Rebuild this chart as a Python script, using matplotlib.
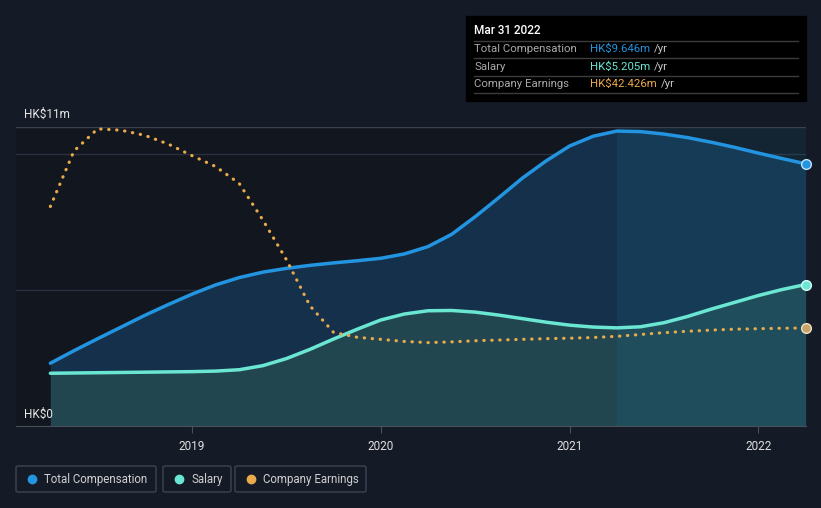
import numpy as np
import matplotlib.pyplot as plt
from matplotlib.patches import Rectangle, FancyBboxPatch
from matplotlib.lines import Line2D

plt.rcParams['font.family'] = ['Roboto', 'DejaVu Sans']

# ---- data (HK$ m), eighth-year steps from Mar 2018 to Mar 2022 ----
years = [2018.25, 2018.375, 2018.5, 2018.625, 2018.75, 2018.875,
         2019.0, 2019.125, 2019.25, 2019.375, 2019.5, 2019.625,
         2019.75, 2019.875, 2020.0, 2020.125, 2020.25, 2020.375,
         2020.5, 2020.625, 2020.75, 2020.875, 2021.0, 2021.125,
         2021.25, 2021.375, 2021.5, 2021.625, 2021.75, 2021.875,
         2022.0, 2022.125, 2022.25]

total_comp = [2.31, 2.77, 3.21, 3.64, 4.07, 4.47,
              4.85, 5.19, 5.46, 5.66, 5.80, 5.91,
              6.00, 6.08, 6.17, 6.33, 6.60, 7.05,
              7.70, 8.40, 9.12, 9.75, 10.30, 10.66,
              10.85, 10.83, 10.74, 10.61, 10.44, 10.25,
              10.04, 9.84, 9.646]

salary = [1.94, 1.95, 1.96, 1.97, 1.98, 1.99,
          2.00, 2.02, 2.07, 2.22, 2.48, 2.82,
          3.20, 3.56, 3.90, 4.12, 4.24, 4.25,
          4.19, 4.08, 3.95, 3.82, 3.71, 3.64,
          3.61, 3.65, 3.80, 4.03, 4.30, 4.55,
          4.80, 5.02, 5.205]

earnings = [95.0, 119.0, 128.6, 128.0, 125.8, 122.0,
            117.0, 112.3, 105.0, 89.2, 72.0, 52.0,
            40.5, 38.4, 37.5, 36.6, 36.1, 36.4,
            36.9, 37.2, 37.5, 37.8, 38.0, 38.3,
            38.8, 39.6, 40.4, 41.0, 41.5, 41.9,
            42.1, 42.3, 42.426]

tick_years = [2019, 2020, 2021, 2022]

BG = '#151b26'
PLOT_BG = '#12161f'
BLUE = '#2394df'
TEAL = '#6ae6d3'
ORANGE = '#e9aa4c'

fig = plt.figure(figsize=(8.21, 5.08), dpi=100, facecolor=BG)
ax = fig.add_axes([16/821, 1-426/508, (805.6-16)/821, 299/508])
ax.set_facecolor(PLOT_BG)
ax.set_xlim(2018.068, 2022.25)
ax.set_ylim(0, 11)

# fills
ax.fill_between(years, 0, total_comp, color='#15304b', zorder=1, lw=0)
ax.fill_between(years, 0, salary, color='#22464f', zorder=1.5, lw=0)
# highlighted last year
ax.axvspan(2021.25, 2022.25, color='#1b7aa0', alpha=0.15, lw=0, zorder=1.8)

# grid
for g in [5, 10]:
    ax.axhline(g, color='#283040', lw=1, zorder=0.5)
ax.axhline(11, color='#3a4250', lw=1, zorder=3)

# earnings on a hidden second scale
ax2 = ax.twinx()
ax2.set_ylim(0, 129.4)
ax2.axis('off')

ax.plot(years, total_comp, color=BLUE, lw=2.5, zorder=4, solid_capstyle='round',
        solid_joinstyle='round')
ax.plot(years, salary, color=TEAL, lw=2.5, zorder=4, solid_capstyle='round',
        solid_joinstyle='round')
ax2.plot(years, earnings, color=ORANGE, lw=2.3, ls=(0, (0.1, 2.4)), zorder=4,
         dash_capstyle='round')

ax.plot(years[-1], total_comp[-1], 'o', ms=7, color=BLUE, mec='#bfe4ff', mew=1, zorder=5, clip_on=False)
ax.plot(years[-1], salary[-1], 'o', ms=7, color=TEAL, mec='#d8fff8', mew=1, zorder=5, clip_on=False)
ax2.plot(years[-1], earnings[-1], 'o', ms=7, color='#c9a46a', mec='#f0e0c0', mew=1, zorder=5, clip_on=False)

# axes styling
for s in ['top', 'right', 'left']:
    ax.spines[s].set_visible(False)
ax.spines['bottom'].set_color('#4a505a')
ax.set_yticks([])
ax.set_xticks(tick_years)
ax.set_xticklabels([str(y) for y in tick_years], color='#e0e0e0', fontsize=8.5)
ax.tick_params(axis='x', colors='#4a505a', length=5, labelcolor='#e0e0e0', pad=5)

fig.text(24/821, 1-114/508, 'HK$11m', color='#e8e8e8', fontsize=8.5, va='center')
fig.text(24/821, 1-414/508, 'HK$0', color='#e8e8e8', fontsize=8.5, va='center')

# tooltip box
fig.patches.append(Rectangle((466/821, 1-101/508), 340/821, 85/508,
                             transform=fig.transFigure, color='#000000', zorder=10))
fig.text(474/821, 1-31/508, 'Mar 31 2022', color='#ffffff', fontsize=8.5,
         fontweight='medium', va='center', zorder=11)
rows = [('Total Compensation', 'HK$9.646m', BLUE, 49),
        ('Salary', 'HK$5.205m', TEAL, 67),
        ('Company Earnings', 'HK$42.426m', ORANGE, 84)]
for ly in [41, 58, 76, 93]:
    fig.add_artist(Line2D([474/821, 798/821], [1-ly/508, 1-ly/508],
                          color='#3c3c3c', lw=1, zorder=11))
renderer = fig.canvas.get_renderer()
for lab, val, col, yy in rows:
    fig.text(474/821, 1-yy/508, lab, color='#a8a8a8', fontsize=8.2, va='center', zorder=11)
    t = fig.text(590/821, 1-yy/508, val, color=col, fontsize=8.2, va='center', zorder=11)
    x_end = t.get_window_extent(renderer).x1
    fig.text((x_end + 4)/821, 1-yy/508, '/yr', color='#c8c8c8', fontsize=8.2,
             va='center', zorder=11)

# legend boxes
legend = [('Total Compensation', BLUE, 16, 140),
          ('Salary', TEAL, 163, 68),
          ('Company Earnings', ORANGE, 235, 131)]
for lab, col, x0, w in legend:
    fig.patches.append(FancyBboxPatch((x0/821, 1-492/508), w/821, 26/508,
                                      boxstyle='round,pad=0,rounding_size=0.003',
                                      transform=fig.transFigure, fc=BG,
                                      ec='#3e4452', lw=1))
    fig.add_artist(Line2D([(x0+16)/821], [1-479/508], marker='o', ms=6,
                          color=col, lw=0))
    fig.text((x0+28)/821, 1-479/508, lab, color='#d0d0d0', fontsize=8.3, va='center')

fig.savefig('out.png', dpi=100, facecolor=BG)
